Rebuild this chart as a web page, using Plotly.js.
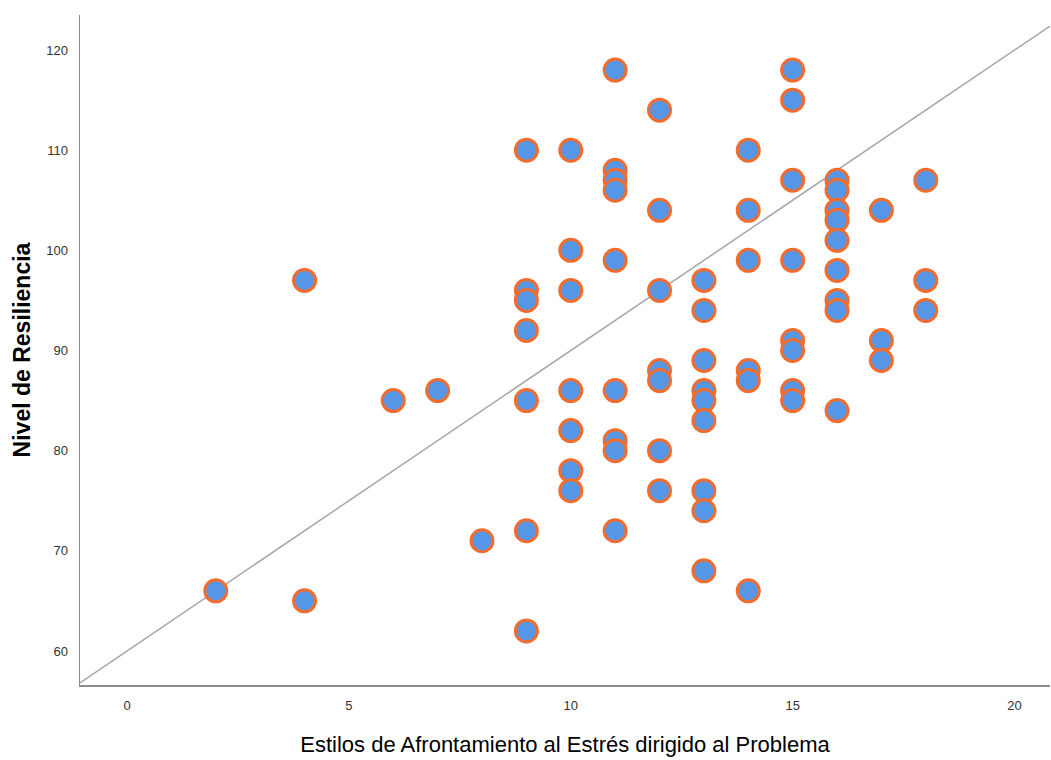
<!DOCTYPE html>
<html>
<head>
<meta charset="utf-8">
<script src="https://cdn.plot.ly/plotly-3.0.1.min.js"></script>
<style>html,body{margin:0;padding:0;background:#fff;}#chart{width:1051px;height:760px;}</style>
</head>
<body>
<div id="chart"></div>
<script>
// Estilos de Afrontamiento al Estrés dirigido al Problema (x) vs Nivel de Resiliencia (y)
const afrontamiento = [
  2,
  4, 4,
  6,
  7,
  8,
  9, 9, 9, 9, 9, 9, 9,
  10, 10, 10, 10, 10, 10, 10,
  11, 11, 11, 11, 11, 11, 11, 11, 11,
  12, 12, 12, 12, 12, 12, 12,
  13, 13, 13, 13, 13, 13, 13, 13, 13,
  14, 14, 14, 14, 14, 14,
  15, 15, 15, 15, 15, 15, 15, 15,
  16, 16, 16, 16, 16, 16, 16, 16, 16,
  17, 17, 17,
  18, 18, 18
];
const resiliencia = [
  66,
  97, 65,
  85,
  86,
  71,
  110, 96, 95, 92, 85, 72, 62,
  110, 100, 96, 86, 82, 78, 76,
  118, 108, 107, 106, 99, 86, 81, 80, 72,
  114, 104, 96, 88, 87, 80, 76,
  97, 94, 89, 86, 85, 83, 76, 74, 68,
  110, 104, 99, 88, 87, 66,
  118, 115, 107, 99, 91, 90, 86, 85,
  107, 106, 104, 103, 101, 98, 95, 94, 84,
  104, 91, 89,
  107, 97, 94
];
const xTicks = [0, 5, 10, 15, 20];
const yTicks = [60, 70, 80, 90, 100, 110, 120];
// reference line: y = intercept + slope * x
const lineIntercept = 60;
const lineSlope = 3;

const xRange = [-1.06, 20.8];
const yRange = [56.6, 123.5];
const lineX = [xRange[0], xRange[1]];
const lineY = lineX.map(v => lineIntercept + lineSlope * v);

const traces = [
  {
    x: lineX, y: lineY, mode: 'lines', type: 'scatter',
    line: {color: '#a6a6a6', width: 1.5},
    hoverinfo: 'skip', showlegend: false, cliponaxis: true
  },
  {
    x: afrontamiento, y: resiliencia, mode: 'markers', type: 'scatter',
    marker: {size: 22, color: '#5596e6', line: {color: '#f26d2d', width: 3}},
    showlegend: false, cliponaxis: false
  }
];

const layout = {
  width: 1051, height: 760,
  margin: {l: 80, r: 1, t: 15, b: 75},
  paper_bgcolor: '#ffffff', plot_bgcolor: '#ffffff',
  font: {family: 'Liberation Sans, Arial, sans-serif', color: '#333333', size: 13},
  showlegend: false,
  xaxis: {
    range: xRange, tickvals: xTicks, ticktext: xTicks.map(String),
    showgrid: false, zeroline: false, showline: true, linecolor: '#8c8c8c', linewidth: 1.5,
    ticks: '', ticklabelstandoff: 8, tickfont: {size: 13, color: '#333333'},
    title: {text: 'Estilos de Afrontamiento al Estrés dirigido al Problema', font: {size: 22, color: '#000000'}, standoff: 24}
  },
  yaxis: {
    range: yRange, tickvals: yTicks, ticktext: yTicks.map(String),
    showgrid: false, zeroline: false, showline: true, linecolor: '#8c8c8c', linewidth: 1.5,
    ticks: '', ticklabelstandoff: 8, tickfont: {size: 13, color: '#333333'},
    title: {text: '<b>Nivel de Resiliencia</b>', font: {size: 23, color: '#000000'}, standoff: 9}
  }
};

Plotly.newPlot('chart', traces, layout, {displayModeBar: false, staticPlot: true});
</script>
</body>
</html>
